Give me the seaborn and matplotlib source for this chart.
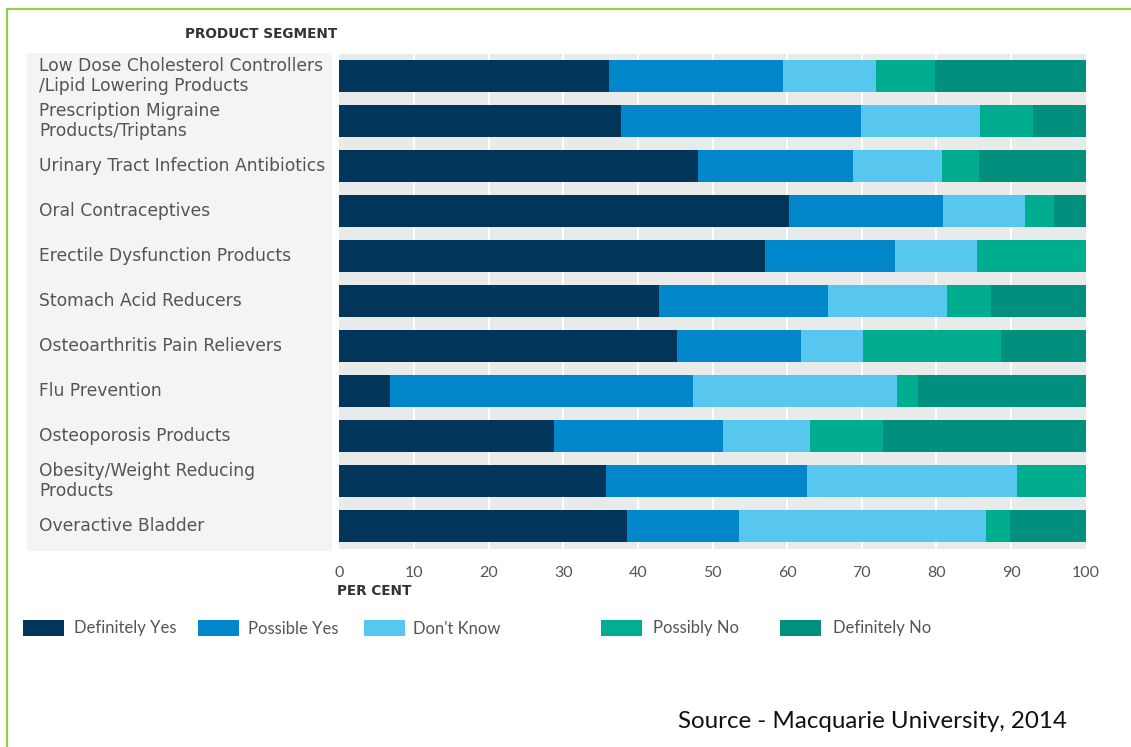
import matplotlib
matplotlib.use("Agg")
import matplotlib.pyplot as plt
import seaborn as sns
import pandas as pd
import numpy as np
from matplotlib.patches import Rectangle
from matplotlib.lines import Line2D

segments = [
    "Low Dose Cholesterol Controllers\n/Lipid Lowering Products",
    "Prescription Migraine\nProducts/Triptans",
    "Urinary Tract Infection Antibiotics",
    "Oral Contraceptives",
    "Erectile Dysfunction Products",
    "Stomach Acid Reducers",
    "Osteoarthritis Pain Relievers",
    "Flu Prevention",
    "Osteoporosis Products",
    "Obesity/Weight Reducing\nProducts",
    "Overactive Bladder",
]
definitely_yes = [36.2, 37.7, 48.1, 60.2, 57.1, 42.8, 45.3, 6.8, 28.7, 35.7, 38.6]
possible_yes   = [23.2, 32.2, 20.7, 20.7, 17.4, 22.7, 16.6, 40.6, 22.7, 26.9, 15.0]
dont_know      = [12.5, 16.0, 11.9, 11.0, 11.0, 15.9, 8.2, 27.3, 11.6, 28.2, 33.0]
possibly_no    = [7.9, 7.0, 5.0, 3.8, 14.5, 5.9, 18.5, 2.8, 9.9, 9.2, 3.3]
definitely_no  = [20.2, 7.1, 14.3, 4.3, 0.0, 12.7, 11.4, 22.5, 27.1, 0.0, 10.1]
series_names = ["Definitely Yes", "Possible Yes", "Don't Know", "Possibly No", "Definitely No"]
x_ticks = [0, 10, 20, 30, 40, 50, 60, 70, 80, 90, 100]

colors = ["#01365a", "#0387cb", "#58c7f0", "#00ae8f", "#00907d"]

sns.set_theme(style="white")
plt.rcParams['font.family'] = ['Lato', 'DejaVu Sans']

df = pd.DataFrame({
    "segment": segments,
    series_names[0]: definitely_yes,
    series_names[1]: possible_yes,
    series_names[2]: dont_know,
    series_names[3]: possibly_no,
    series_names[4]: definitely_no,
})
cum = df[series_names].cumsum(axis=1)

W, H = 1131, 747
fig = plt.figure(figsize=(W / 100, H / 100), dpi=100)

def fx(px):
    return px / W

def fy(py):
    return 1 - py / H

# green frame lines
fig.add_artist(Line2D([fx(7), 1], [fy(9), fy(9)], color="#8fd14f", lw=1.6))
fig.add_artist(Line2D([fx(7), fx(7)], [fy(9), 0], color="#8fd14f", lw=1.6))

# label panel
fig.add_artist(Rectangle((fx(27), fy(551)), fx(332) - fx(27), fy(53) - fy(551),
                         facecolor="#f4f4f4", edgecolor="none", zorder=0))

ax = fig.add_axes([fx(339.3), fy(549), fx(1085.7) - fx(339.3), fy(53.5) - fy(549)])
ax.set_facecolor("#e9ebea")
for t in x_ticks[1:-1]:
    ax.axvline(t, color="white", lw=1.5, zorder=0)

for i in range(len(series_names) - 1, -1, -1):
    name = series_names[i]
    sns.barplot(x=cum[name], y=df["segment"], orient="h", color=colors[i],
                width=0.71, ax=ax, saturation=1, zorder=2 + (len(series_names) - i),
                edgecolor="none", linewidth=0)

ax.set_xlim(0, 100)
ax.set_ylim(len(segments) - 0.5, -0.5)
ax.set_xticks(x_ticks)
ax.set_xticklabels([str(t) for t in x_ticks], fontsize=11.5, color="#555555")
ax.tick_params(axis="x", length=0, pad=12)
ax.set_yticks(range(len(segments)))
ax.set_yticklabels([])
ax.tick_params(axis="y", length=0)
ax.set_xlabel("")
ax.set_ylabel("")
for s in ax.spines.values():
    s.set_visible(False)

# category labels, left-aligned
for i, lab in enumerate(segments):
    yc = 76 + 45 * i
    fig.text(fx(39), fy(yc), lab, ha="left", va="center", fontsize=12.3,
             color="#555555", linespacing=1.1, family=["DejaVu Sans"])

fig.text(fx(337), fy(34), "PRODUCT SEGMENT", ha="right", va="center",
         fontsize=9.8, fontweight="bold", color="#333333", family=["DejaVu Sans"])
fig.text(fx(337), fy(591), "PER CENT", ha="left", va="center",
         fontsize=9.8, fontweight="bold", color="#333333", family=["DejaVu Sans"])

# legend
patch_x = [23, 198, 364, 601, 780]
text_x = [74, 248, 413, 653, 833]
for i, name in enumerate(series_names):
    fig.add_artist(Rectangle((fx(patch_x[i]), fy(636)), fx(41), fy(620) - fy(636),
                             facecolor=colors[i], edgecolor="none"))
    fig.text(fx(text_x[i]), fy(628.5), name, ha="left", va="center",
             fontsize=12, color="#555555")

fig.text(fx(678), fy(721), "Source - Macquarie University, 2014", ha="left",
         va="center", fontsize=17.4, color="#111111")

fig.savefig("out.png", dpi=100)
